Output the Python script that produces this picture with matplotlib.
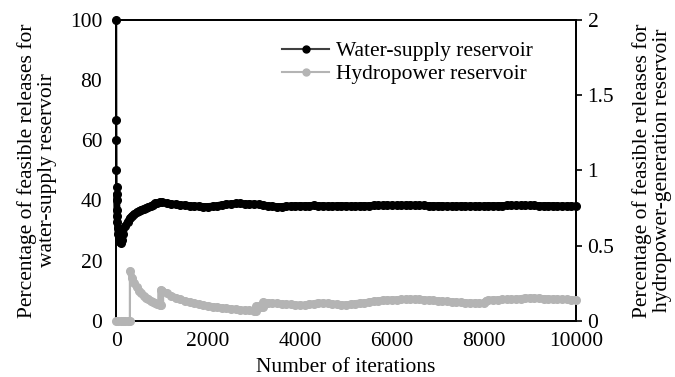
import matplotlib
matplotlib.use("Agg")
import matplotlib.pyplot as plt
from matplotlib.lines import Line2D

plt.rcParams['font.family'] = ['Liberation Serif', 'DejaVu Serif']
plt.rcParams['font.size'] = 15.5

# water-supply reservoir (left axis, %)
ws_iter = [1, 3, 5, 7, 9, 11, 14, 18, 22, 28, 35, 45, 60, 80, 100, 120, 150,
           200, 250, 300, 350, 400, 450, 500, 550, 600, 650, 700, 750, 800,
           850, 900, 950, 1000] + list(range(1100, 10001, 100))
ws_pct = [100, 66.7, 60, 50, 44.4, 42, 40, 37, 35, 33, 31, 29, 27.5, 26.3,
          26, 27, 29, 31.5, 33, 34.2, 35, 35.6, 36.1, 36.6, 37, 37.3, 37.6,
          37.9, 38.2, 38.6, 39, 39.3, 39.5, 39.4,
          39.1, 38.9, 38.7, 38.6, 38.5, 38.3, 38.2, 38.1, 38.0, 38.0,
          38.1, 38.3, 38.6, 38.8, 38.9, 39.0, 39.0, 38.9, 38.9, 38.8,
          38.7, 38.5, 38.3, 38.1, 38.0, 38.0, 38.1, 38.2, 38.3, 38.3,
          38.3, 38.3, 38.4, 38.3, 38.3, 38.2, 38.2, 38.3, 38.3, 38.3,
          38.2, 38.2, 38.3, 38.3, 38.3, 38.4, 38.4, 38.4, 38.5, 38.4,
          38.4, 38.4, 38.5, 38.5, 38.4, 38.4, 38.4, 38.3, 38.3, 38.3,
          38.3, 38.2, 38.2, 38.2, 38.3, 38.2, 38.2, 38.2, 38.2, 38.2,
          38.3, 38.3, 38.3, 38.3, 38.4, 38.4, 38.4, 38.4, 38.4, 38.4,
          38.4, 38.3, 38.3, 38.3, 38.3, 38.2, 38.2, 38.2, 38.2, 38.1]

# hydropower reservoir (right axis, %)
hp_iter = [1, 50, 100, 150, 200, 250, 300, 301, 350, 400, 450, 500, 550, 600,
           650, 700, 750, 800, 850, 900, 950, 970, 971, 1000, 1100, 1200, 1300,
           1400, 1500, 1600, 1700, 1800, 1900, 2000, 2100, 2200, 2300, 2400,
           2500, 2600, 2700, 2800, 2900, 3000, 3050, 3051, 3100, 3150, 3200,
           3201, 3300, 3400, 3500, 3600, 3700, 3800, 3900, 4000, 4100, 4200,
           4300, 4400, 4500, 4600, 4700, 4800, 4900, 5000, 5100, 5200, 5300,
           5400, 5500, 5600, 5700, 5800, 5900, 6000, 6100, 6200, 6300, 6400,
           6500, 6600, 6700, 6800, 6900, 7000, 7100, 7200, 7300, 7400, 7500,
           7600, 7700, 7800, 7900, 8000, 8050, 8100, 8200, 8300, 8400, 8500,
           8600, 8700, 8800, 8900, 9000, 9100, 9200, 9300, 9400, 9500, 9600,
           9700, 9800, 9900, 10000]
hp_pct = [0, 0, 0, 0, 0, 0, 0, 0.332, 0.286, 0.25, 0.222, 0.2, 0.182, 0.167,
          0.154, 0.143, 0.133, 0.125, 0.118, 0.111, 0.105, 0.103, 0.206, 0.2,
          0.182, 0.167, 0.154, 0.143, 0.133, 0.125, 0.118, 0.111, 0.105, 0.1,
          0.095, 0.091, 0.087, 0.083, 0.08, 0.077, 0.074, 0.071, 0.069, 0.067,
          0.066, 0.098, 0.097, 0.095, 0.094, 0.125, 0.121, 0.118, 0.116,
          0.113, 0.111, 0.109, 0.107, 0.105, 0.104, 0.112, 0.114, 0.12, 0.118,
          0.116, 0.113, 0.111, 0.108, 0.107, 0.11, 0.115, 0.118, 0.12, 0.125,
          0.13, 0.134, 0.137, 0.139, 0.14, 0.141, 0.142, 0.143, 0.144, 0.144,
          0.143, 0.141, 0.139, 0.136, 0.133, 0.131, 0.129, 0.127, 0.125,
          0.123, 0.121, 0.12, 0.119, 0.118, 0.117, 0.135, 0.138, 0.14, 0.141,
          0.142, 0.142, 0.143, 0.145, 0.148, 0.152, 0.152, 0.151, 0.15, 0.148,
          0.147, 0.145, 0.144, 0.143, 0.142, 0.141, 0.14]

gray = '#b4b4b4'

fig = plt.figure(figsize=(6.75, 3.77), dpi=100)
ax = fig.add_axes([0.172, 0.149, 0.681, 0.798])
ax2 = ax.twinx()

# dense runs of points merge into a thick band in the original
band = dict(lw=5, solid_capstyle='round', solid_joinstyle='round',
            clip_on=False, zorder=3)
ax.plot(ws_iter[5:], ws_pct[5:], color='black', **band)
ax.plot(ws_iter, ws_pct, color='black', lw=1.6, marker='o', ms=5.5,
        clip_on=False, zorder=3)
ax2.plot(hp_iter[:7], hp_pct[:7], color=gray, **band)
ax2.plot(hp_iter[7:], hp_pct[7:], color=gray, **band)
ax2.plot(hp_iter, hp_pct, color=gray, lw=1.6, marker='o', ms=5.5,
         clip_on=False, zorder=3)

ax.set_xlim(0, 10000)
ax.set_ylim(0, 100)
ax2.set_ylim(0, 2)
ax.set_xticks(range(0, 10001, 2000))
ax.set_yticks(range(0, 101, 20))
ax2.set_yticks([0, 0.5, 1, 1.5, 2])
ax2.set_yticklabels(['0', '0.5', '1', '1.5', '2'])

ax.tick_params(axis='x', length=0, pad=8)
ax.tick_params(axis='y', length=0, pad=10)
ax2.tick_params(axis='y', direction='out', length=4.5, width=1.2, pad=4)

for a in (ax, ax2):
    for s in a.spines.values():
        s.set_linewidth(1.3)

ax.set_xlabel('Number of iterations')
ax.xaxis.set_label_coords(0.5, -0.122)
ax.set_ylabel('Percentage of feasible releases for\nwater-supply reservoir',
              linespacing=1.1)
ax.yaxis.set_label_coords(-0.128, 0.5)
ax2.set_ylabel('Percentage of feasible releases for\nhydropower-generation reservoir',
               rotation=90, linespacing=1.1)
ax2.yaxis.set_label_coords(1.122, 0.5)

handles = [Line2D([], [], color='#404040', lw=1.5, marker='o', ms=5,
                  markerfacecolor='black', markeredgecolor='black'),
           Line2D([], [], color=gray, lw=1.5, marker='o', ms=5)]
ax2.legend(handles, ['Water-supply reservoir', 'Hydropower reservoir'],
           loc='upper left', bbox_to_anchor=(0.361, 0.93), frameon=False,
           borderaxespad=0, borderpad=0, handlelength=2.2,
           handletextpad=0.3, labelspacing=0.15)

fig.savefig('out.png', dpi=100)
